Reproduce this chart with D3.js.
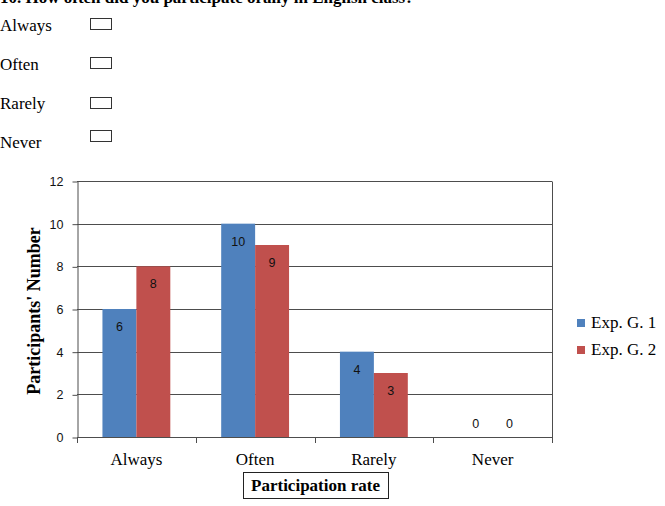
<!DOCTYPE html>
<html>
<head>
<meta charset="utf-8">
<script src="https://cdn.jsdelivr.net/npm/d3@7"></script>
<style>
  body { margin: 0; background: #fff; }
  svg { display: block; }
</style>
</head>
<body>
<div id="chart"></div>
<script>
// question options printed above the chart
const question = '10. How often did you participate orally in English class?';
const options = ['Always', 'Often', 'Rarely', 'Never'];

// chart data
const categories = ['Always', 'Often', 'Rarely', 'Never'];
const series = ['Exp. G. 1', 'Exp. G. 2'];
const group1 = [6, 10, 4, 0];
const group2 = [8, 9, 3, 0];
const yTicks = [0, 2, 4, 6, 8, 10, 12];
const colors = ['#4F81BD', '#C0504D'];

const width = 665, height = 506;
const serif = '"Liberation Serif", "Times New Roman", serif';
const sans = '"Liberation Sans", Arial, sans-serif';

const svg = d3.select('#chart').append('svg')
  .attr('width', width)
  .attr('height', height);

/*
Questionnaire header (cut at the top of the picture)
*/
svg.append('text')
  .attr('x', 0).attr('y', 3)
  .style('font-family', serif).style('font-size', '17px').style('font-weight', 'bold')
  .text(question);

const optY = d3.scalePoint(options, [31, 148]);
svg.selectAll('text.option').data(options).join('text')
  .attr('class', 'option')
  .attr('x', 0)
  .attr('y', d => optY(d))
  .style('font-family', serif).style('font-size', '17px')
  .text(d => d);
svg.selectAll('rect.box').data(options).join('rect')
  .attr('class', 'box')
  .attr('x', 90.5)
  .attr('y', (d, i) => optY(d) - 12.5 + (i === 2 ? 1 : i === 3 ? -5 : 0))
  .attr('width', 21).attr('height', 11)
  .style('fill', 'none').style('stroke', '#333').style('stroke-width', 1);

/*
Plot area
*/
const plot = { left: 77, right: 552, top: 181, bottom: 437 };

const x0 = d3.scaleBand(categories, [plot.left, plot.right]).padding(0);
const x1 = d3.scaleBand(series, [0, x0.bandwidth()]).paddingInner(0).paddingOuter(0.75);
const y = d3.scaleLinear([0, 12], [plot.bottom, plot.top]);

// gridlines
svg.append('g').selectAll('line').data(yTicks).join('line')
  .attr('x1', plot.left).attr('x2', plot.right)
  .attr('y1', d => Math.round(y(d)) + 0.5).attr('y2', d => Math.round(y(d)) + 0.5)
  .style('stroke', '#4d4d4d').style('stroke-width', 1);

// right border
svg.append('line')
  .attr('x1', plot.right + 0.5).attr('x2', plot.right + 0.5)
  .attr('y1', plot.top + 0.5).attr('y2', plot.bottom + 0.5)
  .style('stroke', '#4d4d4d');

/*
Bars
*/
const rows = categories.map((c, i) => ({ cat: c, values: [group1[i], group2[i]] }));

const groups = svg.append('g').selectAll('g').data(rows).join('g')
  .attr('transform', d => `translate(${x0(d.cat)},0)`);

groups.selectAll('rect').data(d => d.values.map((v, j) => ({ s: series[j], v, j }))).join('rect')
  .attr('x', d => x1(d.s))
  .attr('y', d => y(d.v))
  .attr('width', x1.bandwidth())
  .attr('height', d => y(0) - y(d.v))
  .style('fill', d => colors[d.j]);

groups.selectAll('text').data(d => d.values.map((v, j) => ({ s: series[j], v, j }))).join('text')
  .attr('x', d => x1(d.s) + x1.bandwidth() / 2)
  .attr('y', d => d.v === 0 ? y(0) - 9 : y(d.v) + 22)
  .attr('text-anchor', 'middle')
  .style('font-family', sans).style('font-size', '12.5px').style('fill', '#111')
  .text(d => d.v);

/*
Axes
*/
const yAxis = svg.append('g')
  .attr('transform', `translate(${plot.left + 0.5},0.5)`)
  .call(d3.axisLeft(y).tickValues(yTicks).tickSize(5).tickPadding(9).tickSizeOuter(0));
yAxis.select('.domain').style('stroke', '#4d4d4d');
yAxis.selectAll('line').style('stroke', '#4d4d4d');
yAxis.selectAll('text').style('font-family', sans).style('font-size', '12.5px').style('fill', '#111');

// bottom axis ticks at band edges
const edges = categories.map(c => x0(c)).concat([plot.right]);
svg.append('g').selectAll('line').data(edges).join('line')
  .attr('x1', d => Math.round(d) + 0.5).attr('x2', d => Math.round(d) + 0.5)
  .attr('y1', plot.bottom).attr('y2', plot.bottom + 6)
  .style('stroke', '#4d4d4d');

svg.append('g').selectAll('text').data(categories).join('text')
  .attr('x', d => x0(d) + x0.bandwidth() / 2)
  .attr('y', 465)
  .attr('text-anchor', 'middle')
  .style('font-family', serif).style('font-size', '17px')
  .text(d => d);

// axis titles
svg.append('text')
  .attr('transform', `translate(40,${(plot.top + plot.bottom) / 2 + 2}) rotate(-90)`)
  .attr('text-anchor', 'middle')
  .style('font-family', serif).style('font-size', '18px').style('font-weight', 'bold')
  .text("Participants' Number");

const xTitle = svg.append('text')
  .attr('x', 315.5).attr('y', 491)
  .attr('text-anchor', 'middle')
  .style('font-family', serif).style('font-size', '17px').style('font-weight', 'bold')
  .text('Participation rate');
svg.append('rect')
  .attr('x', 243.5).attr('y', 472.5)
  .attr('width', 145).attr('height', 26)
  .style('fill', 'none').style('stroke', '#222');

/*
Legend
*/
const legend = svg.append('g').selectAll('g').data(series).join('g')
  .attr('transform', (d, i) => `translate(577,${319 + i * 27})`);
legend.append('rect')
  .attr('width', 8).attr('height', 8)
  .style('fill', (d, i) => colors[i]);
legend.append('text')
  .attr('x', 14).attr('y', 9)
  .style('font-family', serif).style('font-size', '17px')
  .text(d => d);
</script>
</body>
</html>
